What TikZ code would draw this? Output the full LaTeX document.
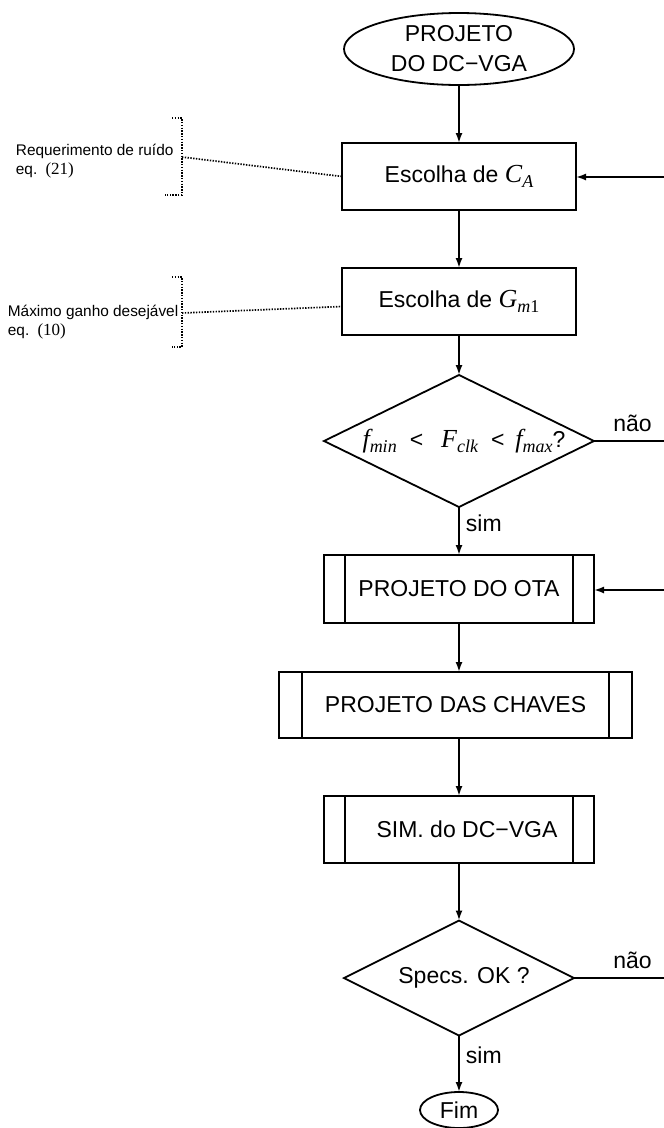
\documentclass[tikz,border=0pt]{standalone}
\usepackage{fontspec}
\setmainfont{Liberation Sans}
\newfontfamily\tms{Liberation Serif}
\usetikzlibrary{shapes.geometric,arrows.meta}
\newcommand\subsc[1]{\raisebox{-5.5pt}{\fontsize{18}{18}\selectfont #1}}
\newcommand\itv[2]{{\tms\fontsize{26}{30}\selectfont\itshape #1\subsc{#2}}}
\begin{document}
\begin{tikzpicture}[x=1pt,y=-1pt,line width=1.8pt,
  arr/.style={-{Latex[length=10pt,width=7pt]}},
  big/.style={font=\fontsize{23}{30}\selectfont},
  small/.style={font=\fontsize{15.4}{18.5}\selectfont},
  term/.style={big,draw,ellipse,inner sep=0pt,outer sep=0pt,align=center},
  procbox/.style={big,draw,rectangle,inner sep=0pt,outer sep=0pt},
  dia/.style={big,draw,diamond,inner sep=0pt,outer sep=0pt},
  lbl/.style={big,inner sep=0pt},
  note/.style={small,inner sep=0pt,align=left,anchor=west},
  dots/.style={line width=1.7pt,dash pattern=on 1.4pt off 1.4pt}
]
\useasboundingbox (0,0) rectangle (664,1128);

% nodes
\node[term,minimum width=230pt,minimum height=72pt] (start) at (459,49) {PROJETO\\DO DC−VGA};
\node[procbox,minimum width=234pt,minimum height=67pt] (ca) at (459,176.5) {Escolha de \itv{C}{A}};
\node[procbox,minimum width=234pt,minimum height=67pt] (gm) at (459,301.5) {Escolha de \itv{G}{m\upshape 1}};
\node[dia,minimum width=270pt,minimum height=132pt] (d1) at (459,441)
  {\makebox[0pt]{\hspace{10pt}\itv{f}{min}\hspace{13pt}<\hspace{18pt}\itv{F}{clk}\hspace{13pt}<\hspace{11pt}\itv{f}{max}?}};
\node[procbox,minimum width=270pt,minimum height=68pt] (ota) at (459,589) {PROJETO DO OTA};
\node[procbox,minimum width=353pt,minimum height=66pt] (chv) at (455.5,705) {PROJETO DAS CHAVES};
\node[procbox,minimum width=270pt,minimum height=67pt] (sim) at (459,829.5) {\hspace*{16pt}SIM. do DC−VGA};
\node[dia,minimum width=230pt,minimum height=115pt] (d2) at (459,978) {\makebox[0pt]{\hspace{10pt}Specs. OK ?}};
\node[term,minimum width=78pt,minimum height=36pt] (fim) at (459,1110) {Fim};

% subprocess inner bars
\foreach \n/\w in {ota/21,chv/23,sim/21}{
  \draw ([xshift=\w pt]\n.north west) -- ([xshift=\w pt]\n.south west);
  \draw ([xshift=-\w pt]\n.north east) -- ([xshift=-\w pt]\n.south east);
}

% main flow
\draw[arr] (start) -- (ca);
\draw[arr] (ca) -- (gm);
\draw[arr] (gm) -- (d1.north);
\draw[arr] (d1.south) -- node[lbl,right=6pt,pos=0.33] {sim} (ota);
\draw[arr] (ota.south) -- (chv.north -| ota.south);
\draw[arr] (chv.south -| ota.south) -- (sim.north);
\draw[arr] (sim) -- (d2.north);
\draw[arr] (d2.south) -- node[lbl,right=6pt,pos=0.35] {sim} (fim);

% return lines (cut at the picture edge)
\coordinate (r1a) at (664,441);
\coordinate (r1b) at (664,177);
\coordinate (r2a) at (664,978);
\coordinate (r2b) at (664,590);
\draw (d1.east) -- node[lbl,above=8pt,pos=0.55] {não} (r1a);
\draw[arr] (r1b) -- (ca.east |- r1b);
\draw (d2.east) -- node[lbl,above=8pt,pos=0.65] {não} (r2a);
\draw[arr] (r2b) -- (ota.east |- r2b);

% notes
\node[note] (n1) at (15,161) {Requerimento de ruído\\eq. \,{\tms\fontsize{17}{18}\selectfont(21)}};
\node[note] (n2) at (7,322) {Máximo ganho desejável\\eq. \,{\tms\fontsize{17}{18}\selectfont(10)}};
\coordinate (b1t) at (172,118);
\coordinate (b1m) at (182,157);
\coordinate (b1b) at (165,195);
\coordinate (b2t) at (172,277);
\coordinate (b2m) at (182,313);
\coordinate (b2b) at (172,347);
\draw[dots] (b1t) -- (b1t -| b1m) -- (b1b -| b1m) -- (b1b);
\draw[dots] (b2t) -- (b2t -| b2m) -- (b2b -| b2m) -- (b2b);
\draw[dots] (b1m) -- (ca.west);
\draw[dots] (b2m) -- ([yshift=-5pt]gm.west);
\end{tikzpicture}
\end{document}
